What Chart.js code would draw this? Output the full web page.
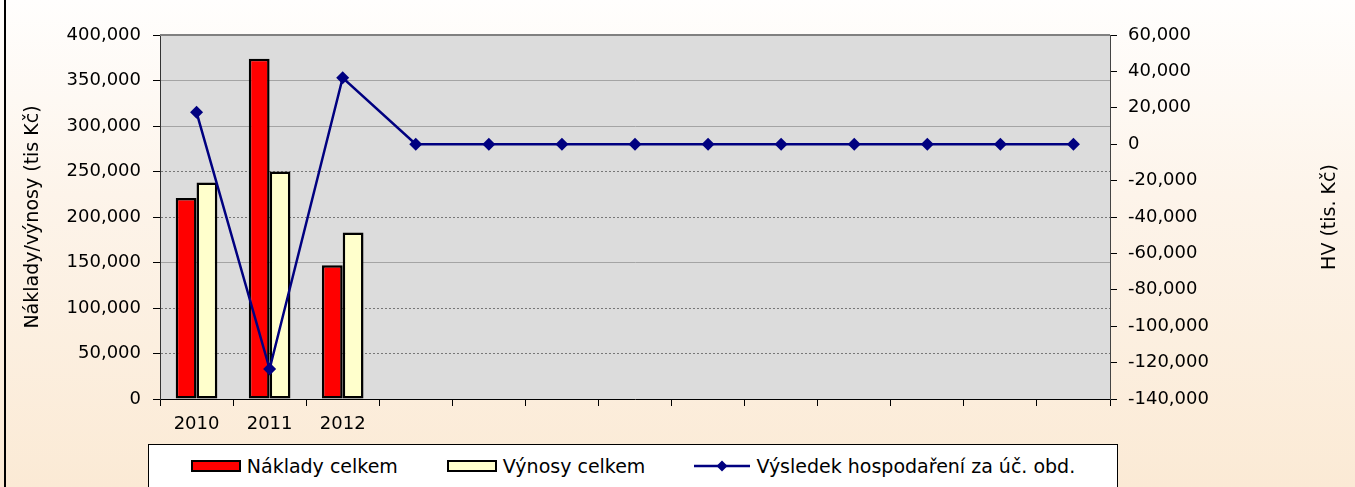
<!DOCTYPE html>
<html>
<head>
<meta charset="utf-8">
<script src="https://cdn.jsdelivr.net/npm/chart.js@4/dist/chart.umd.min.js"></script>
<style>
  html, body { margin: 0; padding: 0; }
  #wrap {
    position: relative;
    width: 1355px;
    height: 487px;
    overflow: hidden;
    background: linear-gradient(to bottom, #fffefd 0%, #fdf4ea 40%, #fbead5 100%);
  }
  #wrap::before {
    content: "";
    position: absolute;
    left: 4px; top: 0; bottom: 0;
    border-left: 2px solid #000;
  }
  canvas { position: absolute; left: 0; top: 0; }
  #legend {
    position: absolute;
    left: 148px; top: 444px;
    width: 968px; height: 50px;
    background: #fff;
    border: 1px solid #000;
    display: flex;
    justify-content: center;
    align-items: flex-start;
    gap: 49px;
    font: 19px "DejaVu Sans", sans-serif;
    color: #000;
  }
  #legend .item { display: flex; align-items: center; gap: 6px; height: 42px; }
  #legend .box { width: 50px; height: 12px; border: 2px solid #000; box-sizing: border-box; }
</style>
</head>
<body>
<div id="wrap">
  <canvas id="chart" width="1355" height="487"></canvas>
  <div id="legend"></div>
</div>
<script>
// categories (only first three years are labelled)
const years = ["2010", "2011", "2012", "", "", "", "", "", "", "", "", "", ""];

// series, tis Kč
const naklady = [221000, 374000, 147000, null, null, null, null, null, null, null, null, null, null];
const vynosy = [238000, 250000, 183000, null, null, null, null, null, null, null, null, null, null];
const vysledek = [17500, -123500, 36500, 0, 0, 0, 0, 0, 0, 0, 0, 0, 0];

// axis ranges [min, max, step]
const leftRange = [0, 400000, 50000];
const rightRange = [-140000, 60000, 20000];
const rightTitle = "HV (tis. Kč)";

const solidGrid = [150000, 300000, 350000];

Chart.defaults.font.family = "'DejaVu Sans', sans-serif";
Chart.defaults.font.size = 18;
Chart.defaults.color = "#000";

const fmt = v => v.toLocaleString("en-US");

function lineIcon() {
  const c = document.createElement("canvas");
  c.width = 56;
  c.height = 14;
  const g = c.getContext("2d");
  g.strokeStyle = "#000080";
  g.lineWidth = 2.5;
  g.beginPath();
  g.moveTo(0, 7);
  g.lineTo(56, 7);
  g.stroke();
  g.fillStyle = "#000080";
  g.beginPath();
  g.moveTo(28, 1.5);
  g.lineTo(33.5, 7);
  g.lineTo(28, 12.5);
  g.lineTo(22.5, 7);
  g.closePath();
  g.fill();
  c.style.position = "static";
  return c;
}

const backdrop = {
  id: "backdrop",
  beforeDraw(chart) {
    const { ctx, chartArea: a } = chart;
    ctx.save();
    ctx.fillStyle = "#dcdcdc";
    ctx.fillRect(a.left, a.top, a.right - a.left, a.bottom - a.top);
    ctx.restore();
  },
  beforeDatasetsDraw(chart) {
    const { ctx, chartArea: a } = chart;
    ctx.save();
    ctx.strokeStyle = "#808080";
    ctx.lineWidth = 2;
    ctx.beginPath();
    ctx.moveTo(a.left, a.top);
    ctx.lineTo(a.right, a.top);
    ctx.stroke();
    ctx.restore();
  },
  afterDraw(chart) {
    // right axis title reads bottom-to-top like the left one
    const { ctx, scales } = chart;
    const s = scales.y1;
    ctx.save();
    ctx.translate(1330, (s.top + s.bottom) / 2);
    ctx.rotate(-Math.PI / 2);
    ctx.font = "19px 'DejaVu Sans', sans-serif";
    ctx.fillStyle = "#000";
    ctx.textAlign = "center";
    ctx.textBaseline = "middle";
    ctx.fillText(rightTitle, 0, 0);
    ctx.restore();
  }
};

const chart = new Chart(document.getElementById("chart"), {
  type: "bar",
  data: {
    labels: years,
    datasets: [
      {
        label: "Náklady celkem",
        data: naklady,
        backgroundColor: "#ff0000",
        borderColor: "#000",
        borderWidth: 2.5,
        borderSkipped: false,
        yAxisID: "y",
        order: 1,
        categoryPercentage: 0.57,
        barPercentage: 1
      },
      {
        label: "Výnosy celkem",
        data: vynosy,
        backgroundColor: "#ffffcc",
        borderColor: "#000",
        borderWidth: 2.5,
        borderSkipped: false,
        yAxisID: "y",
        order: 1,
        categoryPercentage: 0.57,
        barPercentage: 1
      },
      {
        type: "line",
        label: "Výsledek hospodaření za úč. obd.",
        data: vysledek,
        borderColor: "#000080",
        backgroundColor: "#000080",
        borderWidth: 2.5,
        pointStyle: "rectRot",
        pointRadius: 6.5,
        pointBorderWidth: 0,
        tension: 0,
        yAxisID: "y1",
        order: 0
      }
    ]
  },
  options: {
    responsive: false,
    animation: false,
    layout: { padding: { top: 35, left: 0, right: 0, bottom: 43 } },
    plugins: {
      tooltip: { enabled: false },
      legend: { display: false }
    },
    scales: {
      x: {
        offset: true,
        grid: { offset: true, drawOnChartArea: false, tickLength: 7, tickColor: "#000" },
        border: { color: "#000", width: 1 },
        ticks: { padding: 8, maxRotation: 0, autoSkip: false },
        afterFit(s) { s.height = 45; }
      },
      y: {
        position: "left",
        min: leftRange[0],
        max: leftRange[1],
        ticks: { stepSize: leftRange[2], padding: 12, callback: v => fmt(v) },
        grid: {
          tickLength: 7,
          tickColor: "#000",
          color: ctx => (ctx.tick && solidGrid.includes(ctx.tick.value)) ? "#a4a4a4" : "#777"
        },
        border: {
          color: "#333",
          dash: ctx => (ctx.tick && !solidGrid.includes(ctx.tick.value)) ? [2, 2] : []
        },
        title: {
          display: true,
          text: "Náklady/výnosy (tis Kč)",
          font: { size: 19 },
          padding: { top: 22, bottom: 0 }
        },
        afterFit(s) { s.width = 160; }
      },
      y1: {
        position: "right",
        min: rightRange[0],
        max: rightRange[1],
        ticks: { stepSize: rightRange[2], padding: 11, callback: v => fmt(v) },
        grid: { drawOnChartArea: false, tickLength: 7, tickColor: "#000" },
        border: { color: "#444" },
        title: { display: false },
        afterFit(s) { s.width = 245; }
      }
    }
  },
  plugins: [backdrop]
});

// HTML legend built from the chart's datasets
const legendEl = document.getElementById("legend");
chart.data.datasets.forEach(ds => {
  const item = document.createElement("div");
  item.className = "item";
  if (ds.type === "line") {
    item.appendChild(lineIcon());
  } else {
    const box = document.createElement("span");
    box.className = "box";
    box.style.background = ds.backgroundColor;
    item.appendChild(box);
  }
  const txt = document.createElement("span");
  txt.textContent = ds.label;
  item.appendChild(txt);
  legendEl.appendChild(item);
});
</script>
</body>
</html>
